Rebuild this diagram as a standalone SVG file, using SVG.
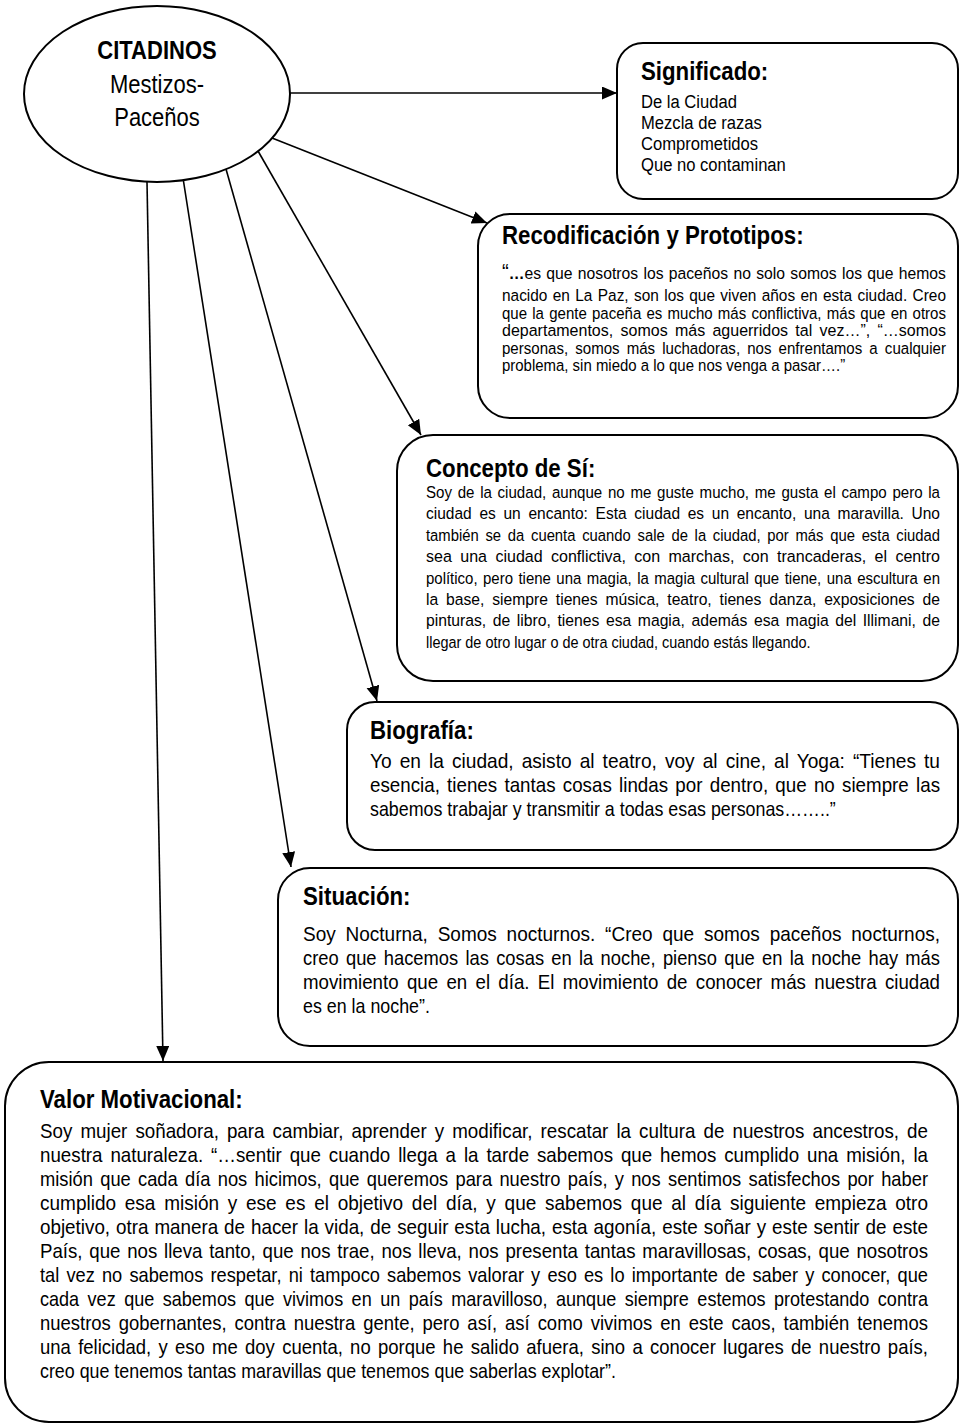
<svg xmlns="http://www.w3.org/2000/svg" width="961" height="1427" viewBox="0 0 961 1427">
<style>
text{font-family:"Liberation Sans",Arial,Helvetica,sans-serif;fill:#000}
.ttl{font-weight:bold;font-size:25px}
.el{font-size:26px}
.sig{font-size:19px}
.sm{font-size:17px}
.md{font-size:21px}
.box{fill:#fff;stroke:#000;stroke-width:2}
.conn line{stroke:#000;stroke-width:1.6}
</style>
<defs>
<marker id="ah" markerUnits="userSpaceOnUse" markerWidth="16" markerHeight="14" refX="15" refY="6.5" orient="auto">
<path d="M0,0 L15,6.5 L0,13 z" fill="#000"/>
</marker>
</defs>
<rect x="0" y="0" width="961" height="1427" fill="#fff"/>

<g id="conectores" class="conn">
<line x1="290" y1="93" x2="617" y2="93" marker-end="url(#ah)"/>
<line x1="272" y1="138" x2="487" y2="223" marker-end="url(#ah)"/>
<line x1="258" y1="151" x2="421" y2="435" marker-end="url(#ah)"/>
<line x1="224" y1="162" x2="377" y2="701" marker-end="url(#ah)"/>
<line x1="183" y1="178" x2="291" y2="867" marker-end="url(#ah)"/>
<line x1="147" y1="182" x2="163" y2="1061" marker-end="url(#ah)"/>
</g>

<g id="citadinos">
<ellipse cx="157" cy="94" rx="133" ry="88" fill="#fff" stroke="#000" stroke-width="2"/>
<g transform="translate(157,0) scale(0.846,1)">
<text class="el" x="0" y="59" text-anchor="middle" font-weight="bold">CITADINOS</text>
<text class="el" x="0" y="93" text-anchor="middle">Mestizos-</text>
<text class="el" x="0" y="126" text-anchor="middle">Paceños</text>
</g>
</g>

<g id="significado">
<rect class="box" x="617" y="43" width="341" height="156" rx="26"/>
<g transform="translate(641,0) scale(0.89,1)"><text class="ttl" x="0" y="80">Significado:</text></g>
<g transform="translate(641,0) scale(0.874,1)">
<text class="sig" x="0" y="108">De la Ciudad</text>
<text class="sig" x="0" y="129">Mezcla de razas</text>
<text class="sig" x="0" y="150">Comprometidos</text>
<text class="sig" x="0" y="171">Que no contaminan</text>
</g>
</g>

<g id="recodificacion">
<rect class="box" x="478" y="214" width="480" height="204" rx="32"/>
<g transform="translate(502,0) scale(0.89,1)"><text class="ttl" x="0" y="244">Recodificación y Prototipos:</text></g>
<g transform="translate(502,0) scale(0.88,1)">
<text class="sm" x="0" y="279" textLength="504.5" lengthAdjust="spacingAndGlyphs" word-spacing="1"><tspan font-size="22">“</tspan><tspan font-weight="bold">…</tspan>es que nosotros los paceños no solo somos los que hemos</text>
<text class="sm" x="0" y="301" textLength="504.5" lengthAdjust="spacingAndGlyphs" word-spacing="1.2">nacido en La Paz, son los que viven años en esta ciudad. Creo</text>
<text class="sm" x="0" y="319" textLength="504.5" lengthAdjust="spacingAndGlyphs" word-spacing="1.2">que la gente paceña es mucho más conflictiva, más que en otros</text>
<text class="sm" x="0" y="336" textLength="504.5" lengthAdjust="spacingAndGlyphs" word-spacing="3">departamentos, somos más aguerridos tal vez…”, “…somos</text>
<text class="sm" x="0" y="354" textLength="504.5" lengthAdjust="spacingAndGlyphs" word-spacing="3.3">personas, somos más luchadoras, nos enfrentamos a cualquier</text>
<text class="sm" x="0" y="371">problema, sin miedo a lo que nos venga a pasar….”</text>
</g>
</g>

<g id="concepto">
<rect class="box" x="397" y="435" width="561" height="246" rx="36"/>
<g transform="translate(426,0) scale(0.89,1)"><text class="ttl" x="0" y="477">Concepto de Sí:</text></g>
<g transform="translate(426,0) scale(0.85,1)">
<text class="sm" x="0" y="498" textLength="604.7" lengthAdjust="spacingAndGlyphs" word-spacing="1.7">Soy de la ciudad, aunque no me guste mucho, me gusta el campo pero la</text>
<text class="sm" x="0" y="519" textLength="604.7" lengthAdjust="spacingAndGlyphs" word-spacing="3.7">ciudad es un encanto: Esta ciudad es un encanto, una maravilla. Uno</text>
<text class="sm" x="0" y="541" textLength="604.7" lengthAdjust="spacingAndGlyphs" word-spacing="3">también se da cuenta cuando sale de la ciudad, por más que esta ciudad</text>
<text class="sm" x="0" y="562" textLength="604.7" lengthAdjust="spacingAndGlyphs" word-spacing="4.2">sea una ciudad conflictiva, con marchas, con trancaderas, el centro</text>
<text class="sm" x="0" y="584" textLength="604.7" lengthAdjust="spacingAndGlyphs" word-spacing="1.5">político, pero tiene una magia, la magia cultural que tiene, una escultura en</text>
<text class="sm" x="0" y="605" textLength="604.7" lengthAdjust="spacingAndGlyphs" word-spacing="3.8">la base, siempre tienes música, teatro, tienes danza, exposiciones de</text>
<text class="sm" x="0" y="626" textLength="604.7" lengthAdjust="spacingAndGlyphs" word-spacing="2.4">pinturas, de libro, tienes esa magia, además esa magia del Illimani, de</text>
<text class="sm" x="0" y="648">llegar de otro lugar o de otra ciudad, cuando estás llegando.</text>
</g>
</g>

<g id="biografia">
<rect class="box" x="347" y="702" width="611" height="148" rx="28"/>
<g transform="translate(370,0) scale(0.89,1)"><text class="ttl" x="0" y="739">Biografía:</text></g>
<g transform="translate(370,0) scale(0.85,1)">
<text class="md" x="0" y="768" textLength="670.6" lengthAdjust="spacingAndGlyphs" word-spacing="3">Yo en la ciudad, asisto al teatro, voy al cine, al Yoga: “Tienes tu</text>
<text class="md" x="0" y="792" textLength="670.6" lengthAdjust="spacingAndGlyphs" word-spacing="2.3">esencia, tienes tantas cosas lindas por dentro, que no siempre las</text>
<text class="md" x="0" y="816">sabemos trabajar y transmitir a todas esas personas……..”</text>
</g>
</g>

<g id="situacion">
<rect class="box" x="278" y="868" width="680" height="178" rx="32"/>
<g transform="translate(303,0) scale(0.89,1)"><text class="ttl" x="0" y="905">Situación:</text></g>
<g transform="translate(303,0) scale(0.85,1)">
<text class="md" x="0" y="941" textLength="749.4" lengthAdjust="spacingAndGlyphs" word-spacing="5">Soy Nocturna, Somos nocturnos. “Creo que somos paceños nocturnos,</text>
<text class="md" x="0" y="965" textLength="749.4" lengthAdjust="spacingAndGlyphs" word-spacing="2.5">creo que hacemos las cosas en la noche, pienso que en la noche hay más</text>
<text class="md" x="0" y="989" textLength="749.4" lengthAdjust="spacingAndGlyphs" word-spacing="3.5">movimiento que en el día. El movimiento de conocer más nuestra ciudad</text>
<text class="md" x="0" y="1013">es en la noche”.</text>
</g>
</g>

<g id="valor">
<rect class="box" x="5" y="1062" width="953" height="360" rx="44"/>
<g transform="translate(40,0) scale(0.89,1)"><text class="ttl" x="0" y="1108">Valor Motivacional:</text></g>
<g transform="translate(40,0) scale(0.85,1)">
<text class="md" x="0" y="1138" textLength="1044.7" lengthAdjust="spacingAndGlyphs" word-spacing="3.2">Soy mujer soñadora, para cambiar, aprender y modificar, rescatar la cultura de nuestros ancestros, de</text>
<text class="md" x="0" y="1162" textLength="1044.7" lengthAdjust="spacingAndGlyphs" word-spacing="3">nuestra naturaleza. “…sentir que cuando llega a la tarde sabemos que hemos cumplido una misión, la</text>
<text class="md" x="0" y="1186" textLength="1044.7" lengthAdjust="spacingAndGlyphs" word-spacing="2.5">misión que cada día nos hicimos, que queremos para nuestro país, y nos sentimos satisfechos por haber</text>
<text class="md" x="0" y="1210" textLength="1044.7" lengthAdjust="spacingAndGlyphs" word-spacing="3.8">cumplido esa misión y ese es el objetivo del día, y que sabemos que al día siguiente empieza otro</text>
<text class="md" x="0" y="1234" textLength="1044.7" lengthAdjust="spacingAndGlyphs" word-spacing="0.8">objetivo, otra manera de hacer la vida, de seguir esta lucha, esta agonía, este soñar y este sentir de este</text>
<text class="md" x="0" y="1258" textLength="1044.7" lengthAdjust="spacingAndGlyphs" word-spacing="1.8">País, que nos lleva tanto, que nos trae, nos lleva, nos presenta tantas maravillosas, cosas, que nosotros</text>
<text class="md" x="0" y="1282" textLength="1044.7" lengthAdjust="spacingAndGlyphs" word-spacing="2.4">tal vez no sabemos respetar, ni tampoco sabemos valorar y eso es lo importante de saber y conocer, que</text>
<text class="md" x="0" y="1306" textLength="1044.7" lengthAdjust="spacingAndGlyphs" word-spacing="4">cada vez que sabemos que vivimos en un país maravilloso, aunque siempre estemos protestando contra</text>
<text class="md" x="0" y="1330" textLength="1044.7" lengthAdjust="spacingAndGlyphs" word-spacing="3.2">nuestros gobernantes, contra nuestra gente, pero así, así como vivimos en este caos, también tenemos</text>
<text class="md" x="0" y="1354" textLength="1044.7" lengthAdjust="spacingAndGlyphs" word-spacing="2.4">una felicidad, y eso me doy cuenta, no porque he salido afuera, sino a conocer lugares de nuestro país,</text>
<text class="md" x="0" y="1378">creo que tenemos tantas maravillas que tenemos que saberlas explotar”.</text>
</g>
</g>
</svg>
